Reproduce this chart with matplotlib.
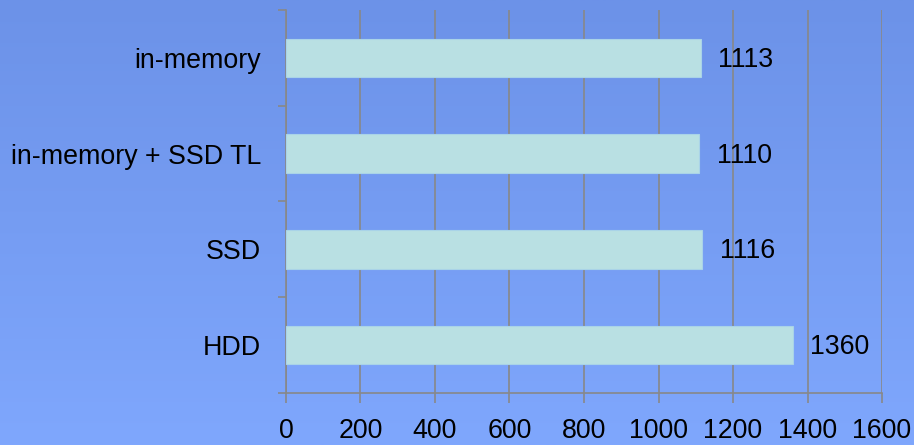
import matplotlib.pyplot as plt
import numpy as np

plt.rcParams['font.family'] = ['Liberation Sans', 'DejaVu Sans']

# data
categories = ["in-memory", "in-memory + SSD TL", "SSD", "HDD"]
values = [1113, 1110, 1116, 1360]
xticks = [0, 200, 400, 600, 800, 1000, 1200, 1400, 1600]

FS = 19.3

fig = plt.figure(figsize=(9.14, 4.45), dpi=100)

# gradient background
bg = fig.add_axes([0, 0, 1, 1], zorder=-1)
top = np.array([108, 146, 232]) / 255
bot = np.array([127, 167, 253]) / 255
t = np.linspace(0, 1, 256)[:, None]
grad = top[None, :] * (1 - t) + bot[None, :] * t
bg.imshow(grad[:, None, :], aspect='auto', extent=[0, 1, 0, 1])
bg.axis('off')

ax = fig.add_axes([0.3129, 0.1169, 0.6521, 0.8606])
ax.set_facecolor('none')

ypos = np.arange(len(categories))
ax.barh(ypos, values, height=0.4, color='#B9E0E3', edgecolor='#A9D3E8',
        linewidth=0.8, zorder=3)
for y, v in zip(ypos, values):
    ax.text(v + 48, y + 0.02, str(v), va='center', ha='left', fontsize=FS, color='black')

ax.set_xlim(0, 1600)
ax.set_ylim(len(categories) - 0.5, -0.5)
ax.set_xticks(xticks)
ax.set_xticklabels([str(x) for x in xticks], fontsize=FS)
ax.set_yticks(np.arange(-0.5, len(categories), 1.0))
ax.set_yticklabels([])
ax.set_yticks(ypos, minor=True)
ax.set_yticklabels(categories, minor=True, fontsize=FS)
ax.tick_params(axis='y', which='minor', length=0, pad=18)
ax.tick_params(axis='y', which='major', length=6, color='#888888', width=1.2)
ax.tick_params(axis='x', length=7, color='#888888', width=1.2, pad=11)

ax.grid(axis='x', color='#888888', linewidth=1.2, zorder=0)
ax.set_axisbelow(True)
for s in ['top', 'right']:
    ax.spines[s].set_visible(False)
for s in ['left', 'bottom']:
    ax.spines[s].set_color('#888888')
    ax.spines[s].set_linewidth(1.2)

fig.savefig('out.png', dpi=100)
